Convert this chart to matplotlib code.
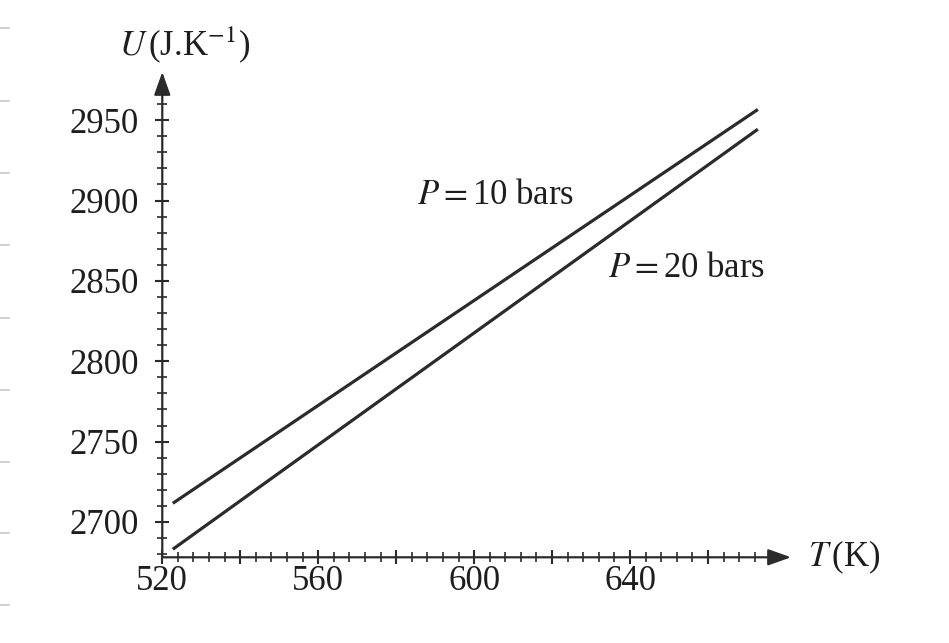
import matplotlib
matplotlib.use("Agg")
import matplotlib.pyplot as plt

plt.rcParams["font.family"] = ["Liberation Serif", "DejaVu Serif"]
plt.rcParams["mathtext.fontset"] = "stix"

# data (straight lines, end points)
temps = [522.7, 672.8]
u_10bar = [2711.6, 2956.7]
u_20bar = [2683.0, 2944.4]
x_labels = [520, 560, 600, 640]
x_majors = [520, 540, 560, 580, 600, 620, 640, 660]
y_labels = [2700, 2750, 2800, 2850, 2900, 2950]

ink = "#2b2b2b"

fig = plt.figure(figsize=(9.49, 6.43), dpi=100)
ax = fig.add_axes([0.171, 0.1333, 0.8335 - 0.171, 0.888 - 0.1333])

ax.plot(temps, u_10bar, color=ink, lw=2.3, solid_capstyle="butt")
ax.plot(temps, u_20bar, color=ink, lw=2.3, solid_capstyle="butt")

ax.set_xlim(520, 681.3)
ax.set_ylim(2678, 2980)

# axes drawn as arrows
for s in ["top", "right", "left", "bottom"]:
    ax.spines[s].set_visible(False)
arrow = dict(arrowstyle="-|>,head_length=0.7,head_width=0.25", mutation_scale=20,
             lw=1.6, color=ink, shrinkA=0, shrinkB=0)
ax.annotate("", xy=(1, 0), xytext=(0, 0), xycoords="axes fraction", arrowprops=arrow)
ax.annotate("", xy=(0, 1), xytext=(0, 0), xycoords="axes fraction", arrowprops=arrow)

# ticks (minor ticks stop before the arrow heads)
ax.set_xticks(x_majors)
ax.set_xticklabels([str(t) if t in x_labels else "" for t in x_majors])
ax.set_xticks([t for t in range(524, 677, 4) if t % 20 != 0], minor=True)
ax.set_yticks(y_labels)
ax.set_yticklabels([str(v) for v in y_labels])
ax.set_yticks([v for v in range(2680, 2971, 10) if v % 50 != 0], minor=True)
ax.tick_params(which="major", direction="inout", length=9.5, width=1.5,
               color=ink, labelsize=25, labelcolor="#1e1e1e")
ax.tick_params(which="minor", direction="inout", length=6.5, width=1.2, color=ink)
ax.tick_params(axis="x", pad=1)
ax.tick_params(axis="y", pad=12)

# labels
fig.text(0.1945, 0.930, r"$U\,$(J.K$^{-1}$)", fontsize=25, ha="center", va="center",
         color="#1e1e1e")
fig.text(0.851, 0.134, r"$T\,$(K)", fontsize=25, ha="left", va="center",
         color="#1e1e1e")
ax.text(605.6, 2903.4, r"$P = $10 bars", fontsize=25, ha="center", va="center",
        color="#1e1e1e")
ax.text(654.4, 2858, r"$P = $20 bars", fontsize=25, ha="center", va="center",
        color="#1e1e1e")

# faint page rule marks on the left edge
for yy in [28, 101, 173, 245, 318, 390, 462, 533, 605]:
    fig.add_artist(plt.Line2D([0, 9 / 949], [1 - yy / 643] * 2, color="#c8c8c8", lw=1.2))

fig.savefig("out.png", dpi=100)
